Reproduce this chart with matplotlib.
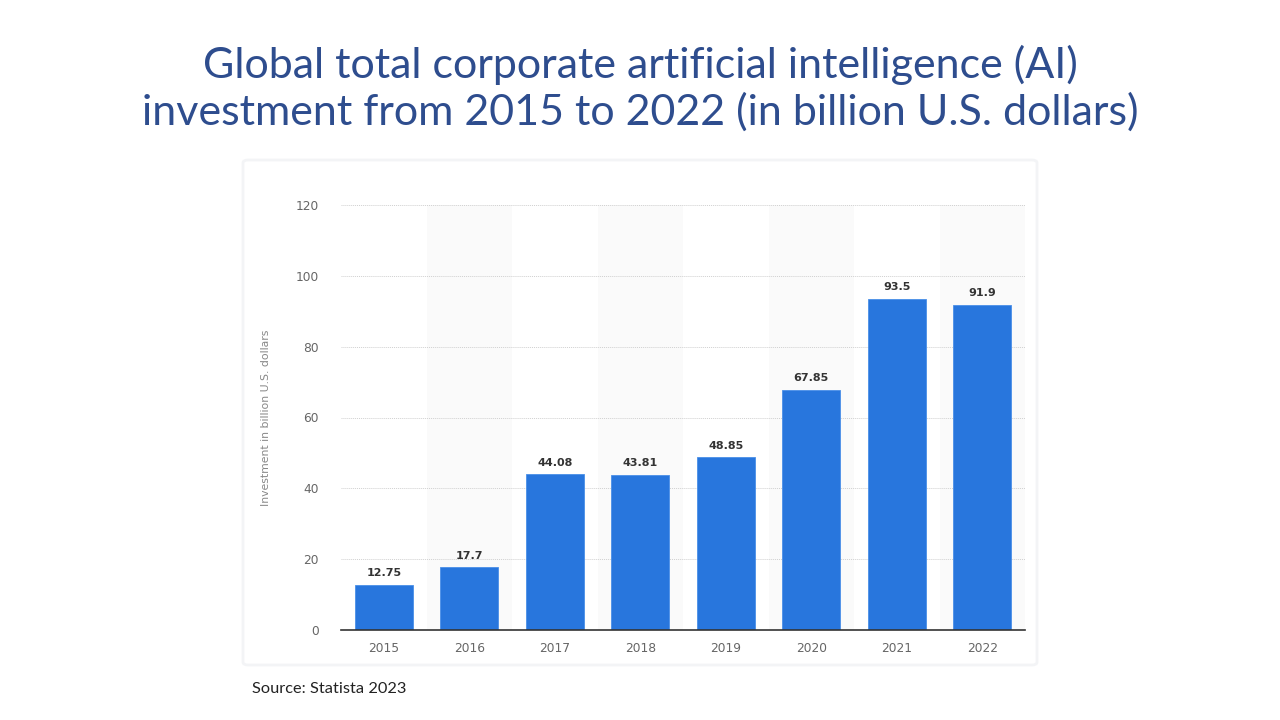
import matplotlib
matplotlib.use("Agg")
import matplotlib.pyplot as plt
from matplotlib.patches import FancyBboxPatch

years = ["2015", "2016", "2017", "2018", "2019", "2020", "2021", "2022"]
values = [12.75, 17.7, 44.08, 43.81, 48.85, 67.85, 93.5, 91.9]
labels = ["12.75", "17.7", "44.08", "43.81", "48.85", "67.85", "93.5", "91.9"]
yticks = [0, 20, 40, 60, 80, 100, 120]

title = "Global total corporate artificial intelligence (AI)\ninvestment from 2015 to 2022 (in billion U.S. dollars)"

fig = plt.figure(figsize=(12.8, 7.2), dpi=100)
fig.patch.set_facecolor("white")

# card panel
card = FancyBboxPatch((243/1280, 1-665/720), (1037-243)/1280, (665-160)/720,
                      boxstyle="round,pad=0,rounding_size=0.004",
                      transform=fig.transFigure, facecolor="white",
                      edgecolor="#f3f4f6", linewidth=2, zorder=-1)
fig.patches.append(card)

fig.text(0.5, 1-88/720, title, ha="center", va="center", fontsize=31,
         color="#2E4D8E", family="Lato", linespacing=1.22)

ax = fig.add_axes([341/1280, 1-630/720, (1025-341)/1280, (630-205)/720])
ax.set_facecolor("none")
ax.set_zorder(2)
x = list(range(len(years)))
for i in x:
    if i % 2 == 1:
        ax.axvspan(i-0.5, i+0.5, color="#fafafa", zorder=0, lw=0)
bars = ax.bar(x, values, width=0.68, color="#2876DD", edgecolor="#4a8fe8", linewidth=0.6, zorder=3)
for xi, v, lab in zip(x, values, labels):
    ax.text(xi, v + 1.8, lab, ha="center", va="bottom", fontsize=8,
            color="#333333", fontweight="bold", family="DejaVu Sans")

ax.set_xlim(-0.5, len(years)-0.5)
ax.set_ylim(0, 120)
ax.set_yticks(yticks)
ax.set_yticklabels([str(t) for t in yticks])
ax.set_xticks(x)
ax.set_xticklabels(years)
ax.tick_params(axis="both", length=0, labelsize=8.8, colors="#666666")
ax.tick_params(axis="y", pad=16)
ax.tick_params(axis="x", pad=9)
ax.yaxis.grid(True, linestyle=(0, (1, 1)), color="#d0d0d0", linewidth=0.7, zorder=1)
ax.set_axisbelow(True)
for s in ["top", "right", "left"]:
    ax.spines[s].set_visible(False)
ax.spines["bottom"].set_color("#333333")
ax.spines["bottom"].set_linewidth(1.2)
ax.spines["bottom"].set_zorder(4)
ax.set_ylabel("Investment in billion U.S. dollars", fontsize=7.8, color="#888888", labelpad=18)

fig.text(252/1280, 1-689/720, "Source: Statista 2023", ha="left", va="center",
         fontsize=11.8, color="#222222", family="Lato")

fig.savefig("out.png", dpi=100)
